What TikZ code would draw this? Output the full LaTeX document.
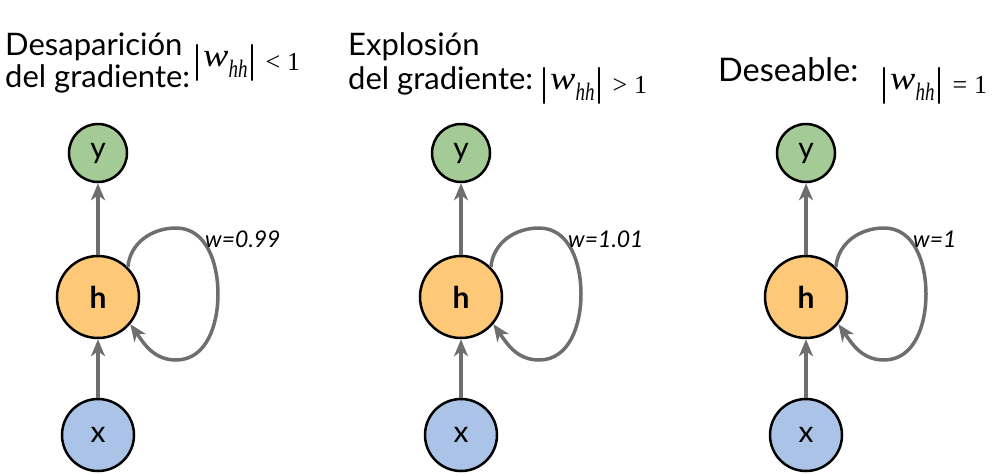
\documentclass[tikz,border=0pt]{standalone}
\usepackage{fontspec}
\setmainfont{Lato}
\newfontfamily\serifw{Liberation Serif}
\usetikzlibrary{arrows.meta}
\definecolor{ygreen}{RGB}{164,202,150}
\definecolor{horange}{RGB}{253,200,120}
\definecolor{xblue}{RGB}{171,195,230}
\definecolor{agray}{RGB}{110,110,110}
\newcommand{\absbar}{\raisebox{-6pt}{\serifw\fontsize{40}{40}\selectfont|}}
\newcommand{\wabs}[1]{\absbar\hspace{2pt}\scalebox{1.15}[1]{\serifw\itshape\fontsize{33}{33}\selectfont w}\raisebox{-11pt}{\scalebox{0.95}[1.25]{\serifw\itshape\fontsize{20}{20}\selectfont hh}}\hspace{1pt}\absbar\hspace{9pt}\raisebox{-4pt}{\serifw\fontsize{26}{26}\selectfont #1}}
\begin{document}
\begin{tikzpicture}[x=1pt,y=-1pt,
  ynode/.style={circle,draw=black,line width=2.5pt,fill=ygreen,minimum size=58pt,inner sep=0pt,font=\fontsize{30}{32}\selectfont},
  hnode/.style={circle,draw=black,line width=2.5pt,fill=horange,minimum size=82pt,inner sep=0pt,font=\fontsize{30}{32}\selectfont\bfseries},
  xnode/.style={circle,draw=black,line width=2.5pt,fill=xblue,minimum size=72pt,inner sep=0pt,font=\fontsize{30}{32}\selectfont},
  conn/.style={draw=agray,line width=4pt,-{Stealth[length=17pt,width=14pt,inset=5pt]}},
  loopc/.style={draw=agray,line width=3.5pt,-{Stealth[length=17pt,width=14pt,inset=5pt]}},
  title/.style={anchor=base west,font=\fontsize{31}{32}\selectfont,inner sep=0pt},
  mathlbl/.style={anchor=base west,inner sep=0pt},
  wlbl/.style={anchor=base west,font=\fontsize{23}{24}\selectfont\itshape,inner sep=0pt}]
\useasboundingbox (0,0) rectangle (1006,475);
% titles
\node[title] (t1a) at (5,55) {Desaparición};
\node[title] (t1b) at (5,87) {del gradiente:};
\node[mathlbl] (m1) at (193,66) {\wabs{<\hspace{7pt}1}};
\node[title] (t2a) at (348,55) {Explosión};
\node[title] (t2b) at (348,89) {del gradiente:};
\node[mathlbl] (m2) at (540,89) {\wabs{>\hspace{7pt}1}};
\node[title,font=\fontsize{32.5}{34}\selectfont] (t3a) at (718,81) {Deseable:};
\node[mathlbl] (m3) at (880,89) {\wabs{=\hspace{7pt}1}};
% panels
\foreach \cx/\lab/\nm in {98/0.99/a,461/1.01/b,806/1/c}{
  \node[ynode] (y\nm) at (\cx,153) {y};
  \node[hnode] (h\nm) at (\cx,297) {h};
  \node[xnode] (x\nm) at (\cx,435) {x};
  \draw[conn] (h\nm.north) -- (y\nm.south);
  \draw[conn] (x\nm.north) -- (h\nm.south);
  \coordinate (lt\nm) at (\cx+78,228);
  \coordinate (lr\nm) at (\cx+120,294);
  \coordinate (lb\nm) at (\cx+78,360);
  \draw[loopc] (h\nm.45) to[out=85,in=180] (lt\nm) to[out=0,in=90] (lr\nm) to[out=-90,in=0] (lb\nm) to[out=180,in=-55] (h\nm.-40);
  \node[wlbl] (w\nm) at (\cx+107,247) {w=\lab};
}
\end{tikzpicture}
\end{document}
